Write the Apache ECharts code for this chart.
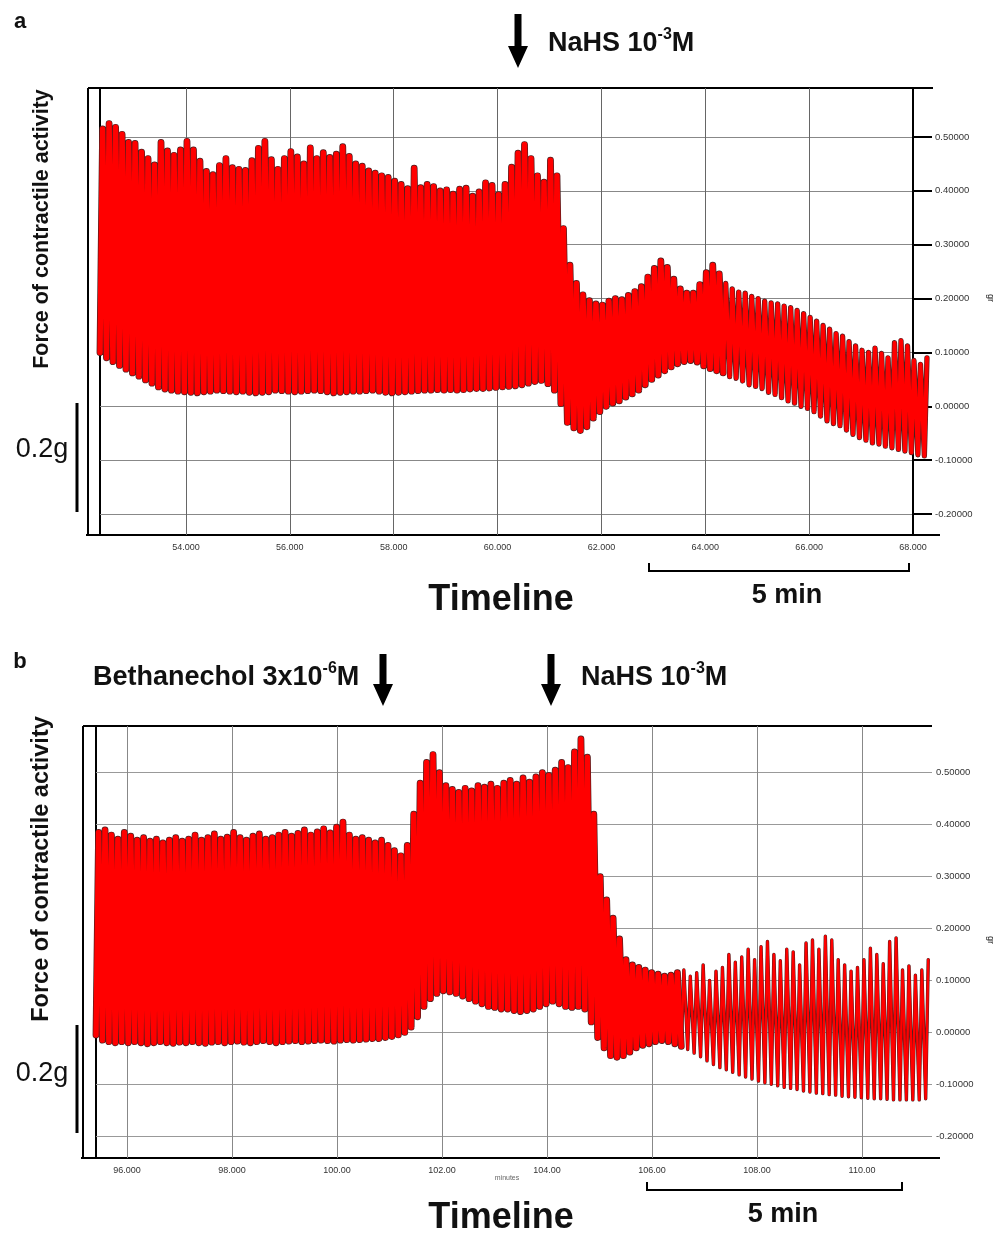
<!DOCTYPE html>
<html><head><meta charset="utf-8">
<script src="https://cdn.jsdelivr.net/npm/echarts@6/dist/echarts.min.js"></script>
<style>html,body{margin:0;padding:0;background:#fff}#c{width:1000px;height:1234px}</style>
</head><body><div id="c"></div>
<script>
// ---------- Panel a data (contraction peaks / troughs per cycle) ----------
const aStart = 52.344, aStep = 0.125;
const aPeak = [0.515,0.525,0.518,0.505,0.49,0.488,0.472,0.46,0.448,0.49,
  0.474,0.466,0.476,0.492,0.476,0.455,0.436,0.43,0.447,0.46,
  0.443,0.44,0.438,0.456,0.479,0.492,0.458,0.44,0.46,0.473,
  0.463,0.45,0.48,0.46,0.471,0.462,0.468,0.482,0.464,0.45,
  0.446,0.437,0.433,0.428,0.425,0.418,0.412,0.404,0.442,0.406,
  0.412,0.408,0.4,0.402,0.394,0.403,0.405,0.39,0.398,0.415,
  0.41,0.393,0.412,0.444,0.47,0.486,0.46,0.428,0.416,0.457,
  0.428,0.33,0.262,0.228,0.207,0.196,0.19,0.188,0.195,0.2,
  0.198,0.206,0.213,0.222,0.24,0.256,0.27,0.258,0.236,0.218,
  0.21,0.21,0.226,0.248,0.262,0.246,0.228,0.218,0.212,0.21,
  0.204,0.2,0.195,0.192,0.19,0.186,0.183,0.178,0.172,0.165,
  0.158,0.15,0.143,0.135,0.13,0.12,0.112,0.104,0.1,0.108,
  0.098,0.09,0.118,0.122,0.112,0.085,0.078,0.09];
const aTrough = [0.1,0.09,0.083,0.076,0.069,0.062,0.056,0.049,0.043,0.036,
  0.032,0.03,0.028,0.027,0.026,0.025,0.027,0.028,0.03,0.029,
  0.028,0.027,0.028,0.026,0.025,0.026,0.027,0.03,0.029,0.028,
  0.027,0.028,0.029,0.03,0.029,0.027,0.025,0.026,0.027,0.028,
  0.028,0.029,0.03,0.028,0.026,0.025,0.026,0.027,0.028,0.029,
  0.03,0.03,0.031,0.03,0.031,0.03,0.031,0.032,0.033,0.033,
  0.034,0.035,0.036,0.037,0.038,0.04,0.043,0.046,0.048,0.042,
  0.03,0.005,-0.03,-0.04,-0.045,-0.038,-0.022,-0.01,0.0,0.006,
  0.01,0.017,0.023,0.03,0.04,0.05,0.058,0.066,0.073,0.079,
  0.083,0.085,0.082,0.075,0.07,0.066,0.062,0.055,0.052,0.047,
  0.04,0.037,0.033,0.026,0.022,0.016,0.01,0.006,0.0,-0.004,
  -0.01,-0.018,-0.027,-0.032,-0.036,-0.044,-0.052,-0.058,-0.063,-0.068,
  -0.07,-0.074,-0.077,-0.08,-0.083,-0.086,-0.09,-0.092];

// ---------- Panel b data ----------
const bStart = 95.41, bStep = 0.1225;
const bPeak = [0.385,0.39,0.38,0.372,0.385,0.378,0.37,0.375,0.368,0.372,
  0.365,0.37,0.375,0.368,0.372,0.38,0.37,0.375,0.382,0.372,
  0.376,0.385,0.375,0.37,0.378,0.382,0.372,0.375,0.38,0.385,
  0.378,0.383,0.39,0.38,0.386,0.392,0.384,0.395,0.405,0.38,
  0.372,0.375,0.37,0.365,0.37,0.36,0.35,0.34,0.36,0.42,
  0.48,0.52,0.535,0.5,0.475,0.468,0.462,0.47,0.465,0.475,
  0.472,0.478,0.47,0.48,0.485,0.478,0.49,0.482,0.492,0.5,
  0.495,0.505,0.52,0.51,0.54,0.565,0.53,0.42,0.3,0.255,
  0.22,0.18,0.14,0.13,0.125,0.12,0.115,0.112,0.108,0.11,
  0.115,0.12,0.108,0.115,0.13,0.1,0.118,0.125,0.15,0.135,
  0.145,0.16,0.14,0.165,0.175,0.15,0.138,0.16,0.155,0.13,
  0.172,0.178,0.16,0.185,0.178,0.14,0.13,0.118,0.125,0.14,
  0.162,0.15,0.132,0.175,0.182,0.12,0.128,0.11,0.12,0.14];
const bTrough = [-0.005,-0.015,-0.018,-0.02,-0.018,-0.02,-0.018,-0.02,-0.022,-0.02,
  -0.018,-0.02,-0.021,-0.019,-0.02,-0.018,-0.02,-0.021,-0.019,-0.018,
  -0.02,-0.018,-0.017,-0.019,-0.02,-0.018,-0.016,-0.018,-0.02,-0.018,
  -0.017,-0.016,-0.018,-0.017,-0.016,-0.015,-0.016,-0.017,-0.015,-0.014,
  -0.015,-0.014,-0.013,-0.012,-0.012,-0.01,-0.008,-0.005,0.0,0.01,
  0.03,0.05,0.065,0.075,0.08,0.078,0.075,0.07,0.065,0.06,
  0.055,0.05,0.048,0.045,0.045,0.042,0.04,0.042,0.045,0.05,
  0.055,0.06,0.055,0.05,0.048,0.05,0.045,0.02,-0.01,-0.03,
  -0.045,-0.048,-0.045,-0.038,-0.03,-0.025,-0.022,-0.018,-0.016,-0.018,
  -0.022,-0.027,-0.033,-0.04,-0.047,-0.055,-0.062,-0.068,-0.072,-0.077,
  -0.082,-0.086,-0.09,-0.094,-0.097,-0.1,-0.103,-0.106,-0.108,-0.11,
  -0.113,-0.115,-0.117,-0.118,-0.12,-0.121,-0.123,-0.124,-0.125,-0.126,
  -0.127,-0.128,-0.128,-0.129,-0.13,-0.13,-0.13,-0.13,-0.13,-0.128];

// ---------- Tick labels ----------
const xTicksA = [54,56,58,60,62,64,66,68];
const xLabelsA = ['54.000','56.000','58.000','60.000','62.000','64.000','66.000','68.000'];
const xTicksB = [96,98,100,102,104,106,108,110];
const xLabelsB = ['96.000','98.000','100.00','102.00','104.00','106.00','108.00','110.00'];
const yTicks = [-0.2,-0.1,0,0.1,0.2,0.3,0.4,0.5];
const yLabels = ['-0.20000','-0.10000','0.00000','0.10000','0.20000','0.30000','0.40000','0.50000'];

function trace(t0, step, troughs, peaks, from, to){
  const out = [];
  for (let i = from; i <= to; i++){
    out.push([t0 + i*step, troughs[i]]);
    if (i < to || to === peaks.length - 1) out.push([t0 + (i+0.4)*step, peaks[i]]);
  }
  return out;
}
const traceA1 = trace(aStart, aStep, aTrough, aPeak, 0, 96);
const traceA2 = trace(aStart, aStep, aTrough, aPeak, 96, aPeak.length - 1);
const traceB1 = trace(bStart, bStep, bTrough, bPeak, 0, 91);
const traceB2 = trace(bStart, bStep, bTrough, bPeak, 91, bPeak.length - 1);

const FONT = 'Liberation Sans, Arial, sans-serif';
const chart = echarts.init(document.getElementById('c'), null, {renderer:'canvas'});

function xAxisCfg(gi, min, max, ticks, labels, gridColor){
  return {type:'value', gridIndex:gi, min:min, max:max,
    axisLine:{show:false}, axisTick:{show:false, customValues:ticks},
    axisLabel:{customValues:ticks, margin:8, fontSize:9, color:'#333', fontFamily:FONT,
      formatter:(v)=>{const k=ticks.findIndex(t=>Math.abs(t-v)<1e-6); return k>=0?labels[k]:'';}},
    splitLine:{show:true, lineStyle:{color:gridColor, width:1}}};
}
function yAxisCfg(gi, min, max, showLine, showTick, off, gridColor){
  return {type:'value', gridIndex:gi, position:'right', offset:off, min:min, max:max,
    axisLine:{show:showLine, lineStyle:{color:'#000', width:2}},
    axisTick:{show:showTick, inside:false, length:19, customValues:yTicks, lineStyle:{color:'#000', width:2}},
    axisLabel:{customValues:yTicks, margin:22, fontSize:9.5, color:'#333', fontFamily:FONT,
      formatter:(v)=>{const k=yTicks.findIndex(t=>Math.abs(t-v)<1e-6); return k>=0?yLabels[k]:'';}},
    splitLine:{show:true, lineStyle:{color:gridColor, width:1}}};
}

function ln(x1,y1,x2,y2,w,c){return {type:'line', shape:{x1:x1,y1:y1,x2:x2,y2:y2}, style:{stroke:c||'#000', lineWidth:w}, silent:true};}
function arrow(cx, top, headStart, tip){
  return {type:'polygon', shape:{points:[[cx-3.5,top],[cx+3.5,top],[cx+3.5,headStart],[cx+10,headStart],[cx,tip],[cx-10,headStart],[cx-3.5,headStart]]}, style:{fill:'#000'}, silent:true};
}
function txt(x,y,text,size,weight,opts){
  return Object.assign({type:'text', x:x, y:y, style:{text:text, fontSize:size, fontWeight:weight||'normal', fontFamily:FONT, fill:'#111', align:'center', verticalAlign:'middle'}, silent:true}, opts||{});
}
function rich(x,y,parts){
  return {type:'text', x:x, y:y, silent:true, style:{text:parts, fontFamily:FONT, fill:'#111', align:'left', verticalAlign:'middle',
    rich:{n:{fontSize:27, fontWeight:'bold', fontFamily:FONT, lineHeight:30, verticalAlign:'bottom', fill:'#111'},
          s:{fontSize:16, fontWeight:'bold', fontFamily:FONT, lineHeight:14, verticalAlign:'top', fill:'#111'}}}};
}
function lineSeries(xi, data, color, w, z){
  return {type:'line', xAxisIndex:xi, yAxisIndex:xi, data:data, showSymbol:false, clip:false, lineStyle:{color:color, width:w, join:'round', cap:'round'}, z:z};
}

const option = {
  animation:false,
  backgroundColor:'#fff',
  grid:[{left:100, top:88, width:832, height:447},{left:96, top:726, width:836, height:432}],
  xAxis:[xAxisCfg(0, 52.344, 68.366, xTicksA, xLabelsA, '#666'), xAxisCfg(1, 95.41, 111.333, xTicksB, xLabelsB, '#888')],
  yAxis:[yAxisCfg(0, -0.239, 0.591, true, true, -19, '#888'), yAxisCfg(1, -0.242, 0.590, false, false, -18, '#999')],
  series:[
    lineSeries(0, traceA1, '#4e1f1f', 6.8, 2), lineSeries(0, traceA1, '#ff0000', 5.4, 3),
    lineSeries(0, traceA2, '#4e1f1f', 5.3, 2), lineSeries(0, traceA2, '#ff0000', 4.0, 3),
    lineSeries(1, traceB1, '#4e1f1f', 6.8, 2), lineSeries(1, traceB1, '#ff0000', 5.4, 3),
    lineSeries(1, traceB2, '#4e1f1f', 3.4, 2), lineSeries(1, traceB2, '#ff0000', 2.4, 3)
  ],
  graphic:[
    // frames panel a
    ln(88,88,933,88,2), ln(88,88,88,536,2), ln(100,88,100,536,2), ln(86,535,940,535,2),
    // frames panel b
    ln(83,726,932,726,2), ln(83,726,83,1159,2), ln(96,726,96,1159,2), ln(81,1158,940,1158,2),
    // scale bars
    ln(77,403,77,512,3), ln(77,1025,77,1133,3),
    // 5 min brackets
    {type:'polyline', shape:{points:[[649,563],[649,571],[909,571],[909,563]]}, style:{stroke:'#000', lineWidth:2, fill:null}, silent:true},
    {type:'polyline', shape:{points:[[647,1182],[647,1190],[902,1190],[902,1182]]}, style:{stroke:'#000', lineWidth:2, fill:null}, silent:true},
    // arrows
    arrow(518,14,46,68), arrow(383,654,684,706), arrow(551,654,684,706),
    // labels
    txt(20,22,'a',22,'bold'), txt(20,662,'b',22,'bold'),
    rich(548,42,'{n|NaHS 10}{s|-3}{n|M}'),
    rich(93,676,'{n|Bethanechol 3x10}{s|-6}{n|M}'),
    rich(581,676,'{n|NaHS 10}{s|-3}{n|M}'),
    txt(42,229,'Force of contractile activity',21.5,'bold',{rotation:Math.PI/2}),
    txt(42,869,'Force of contractile activity',23.5,'bold',{rotation:Math.PI/2}),
    txt(42,450,'0.2g',27,'normal'), txt(42,1074,'0.2g',27,'normal'),
    txt(501,600,'Timeline',36,'bold'), txt(501,1218,'Timeline',36,'bold'),
    txt(787,596,'5 min',27,'bold'), txt(783,1215,'5 min',27,'bold'),
    txt(990,298,'gr',9,'normal',{rotation:-Math.PI/2}), txt(990,940,'gr',9,'normal',{rotation:-Math.PI/2}),
    {type:'text', x:507, y:1178, silent:true, style:{text:'minutes', fontSize:7, fontFamily:FONT, fill:'#666', align:'center', verticalAlign:'middle'}}
  ]
};
chart.setOption(option);
</script></body></html>
